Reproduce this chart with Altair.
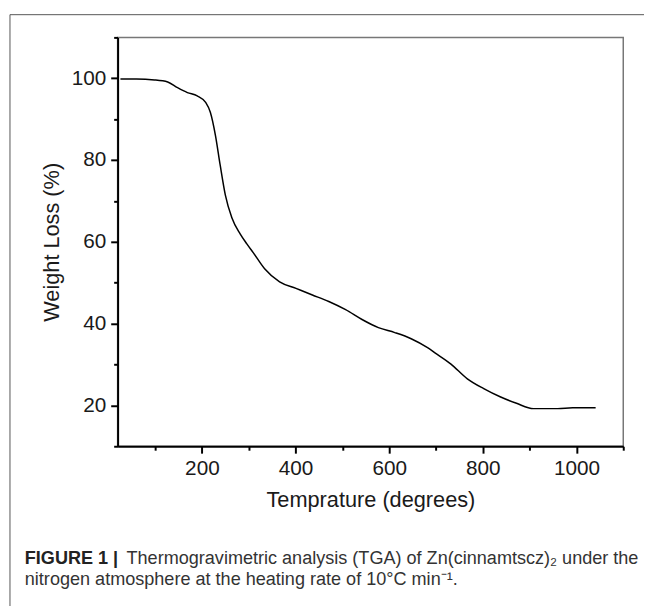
import altair as alt
import pandas as pd

# Data
temperature = [26, 60, 99, 127, 148, 169, 190, 208, 218, 229, 239, 250, 264, 282,
               296, 310, 334, 366, 401, 436, 471, 507, 542, 577, 612, 647, 682,
               697, 732, 767, 802, 837, 872, 908, 960, 992, 1041]
weight = [99.8, 99.8, 99.6, 99.1, 97.7, 96.5, 95.7, 94.1, 91.7, 86.0, 78.8, 71.5,
          65.9, 61.9, 59.5, 57.3, 53.4, 50.2, 48.6, 47.0, 45.4, 43.4, 41.0, 39.0,
          37.8, 36.3, 34.1, 32.9, 30.1, 26.5, 24.1, 22.1, 20.5, 19.2, 19.2, 19.4, 19.4]

x_ticks = list(range(100, 1101, 100))
y_ticks = list(range(10, 111, 10))

x_title = "Temprature (degrees)"
y_title = "Weight Loss (%)"
caption_bold = "FIGURE 1 |"
caption_line1 = "Thermogravimetric analysis (TGA) of Zn(cinnamtscz)\u2082 under the"
caption_line2 = "nitrogen atmosphere at the heating rate of 10\u00b0C min\u207b\u00b9."

FONT = "Liberation Sans, Arial, Helvetica, sans-serif"
TXT = "#1a1a1a"
CAP = "#333"
CAP_SIZE = 18.3

df = pd.DataFrame({"T": temperature, "W": weight})
one = alt.Data(values=[{}])

line = alt.Chart(df).mark_line(color="black", strokeWidth=1.5, interpolate="monotone").encode(
    x=alt.X("T:Q",
            scale=alt.Scale(domain=[20, 1100], nice=False, zero=False),
            axis=alt.Axis(values=x_ticks, format="d", title=x_title, grid=False,
                          labelExpr="datum.value % 200 === 0 ? datum.label : ''",
                          tickSize={"condition": {"test": "datum.value % 200 === 0", "value": 7}, "value": 4},
                          labelPadding=5, titleY=54, titleBaseline="middle")),
    y=alt.Y("W:Q",
            scale=alt.Scale(domain=[10, 110], nice=False, zero=False),
            axis=alt.Axis(values=y_ticks, format="d", title=y_title, grid=False,
                          labelExpr="datum.value % 20 === 0 ? datum.label : ''",
                          tickSize={"condition": {"test": "datum.value % 20 === 0", "value": 7}, "value": 4},
                          labelPadding=5, titleX=-67, titleBaseline="middle")),
)

border_left = alt.Chart(one).mark_rule(color="#555", strokeWidth=1).encode(
    x=alt.value(-109), y=alt.value(-23), y2=alt.value(580))
border_top = alt.Chart(one).mark_rule(color="#555", strokeWidth=1).encode(
    x=alt.value(-109), x2=alt.value(560), y=alt.value(-23))

cap_b = alt.Chart(one).mark_text(align="left", baseline="alphabetic", font=FONT,
                                 fontSize=CAP_SIZE, fontWeight="bold", color="#222").encode(
    x=alt.value(-94), y=alt.value(533), text=alt.value(caption_bold))
cap_1 = alt.Chart(one).mark_text(align="left", baseline="alphabetic", font=FONT,
                                 fontSize=CAP_SIZE, color=CAP).encode(
    x=alt.value(9), y=alt.value(533), text=alt.value(caption_line1))
cap_2 = alt.Chart(one).mark_text(align="left", baseline="alphabetic", font=FONT,
                                 fontSize=CAP_SIZE, color=CAP).encode(
    x=alt.value(-94), y=alt.value(555), text=alt.value(caption_line2))

chart = alt.layer(line, border_left, border_top, cap_b, cap_1, cap_2).properties(
    width=512, height=414,
    autosize=alt.AutoSizeParams(type="none"),
    padding={"left": 111, "top": 26, "right": 21, "bottom": 158},
    background="white",
).configure_view(
    stroke="#777", strokeWidth=1.5
).configure_axis(
    domainColor="black", domainWidth=2, tickColor="black", tickWidth=2,
    labelFont=FONT, labelFontSize=21, labelColor=TXT,
    titleFont=FONT, titleFontSize=22, titleFontWeight="normal", titleColor=TXT,
    labelOverlap=False, labelFlush=False,
)

chart.save("out.html", embed_options={"renderer": "svg", "actions": False})
